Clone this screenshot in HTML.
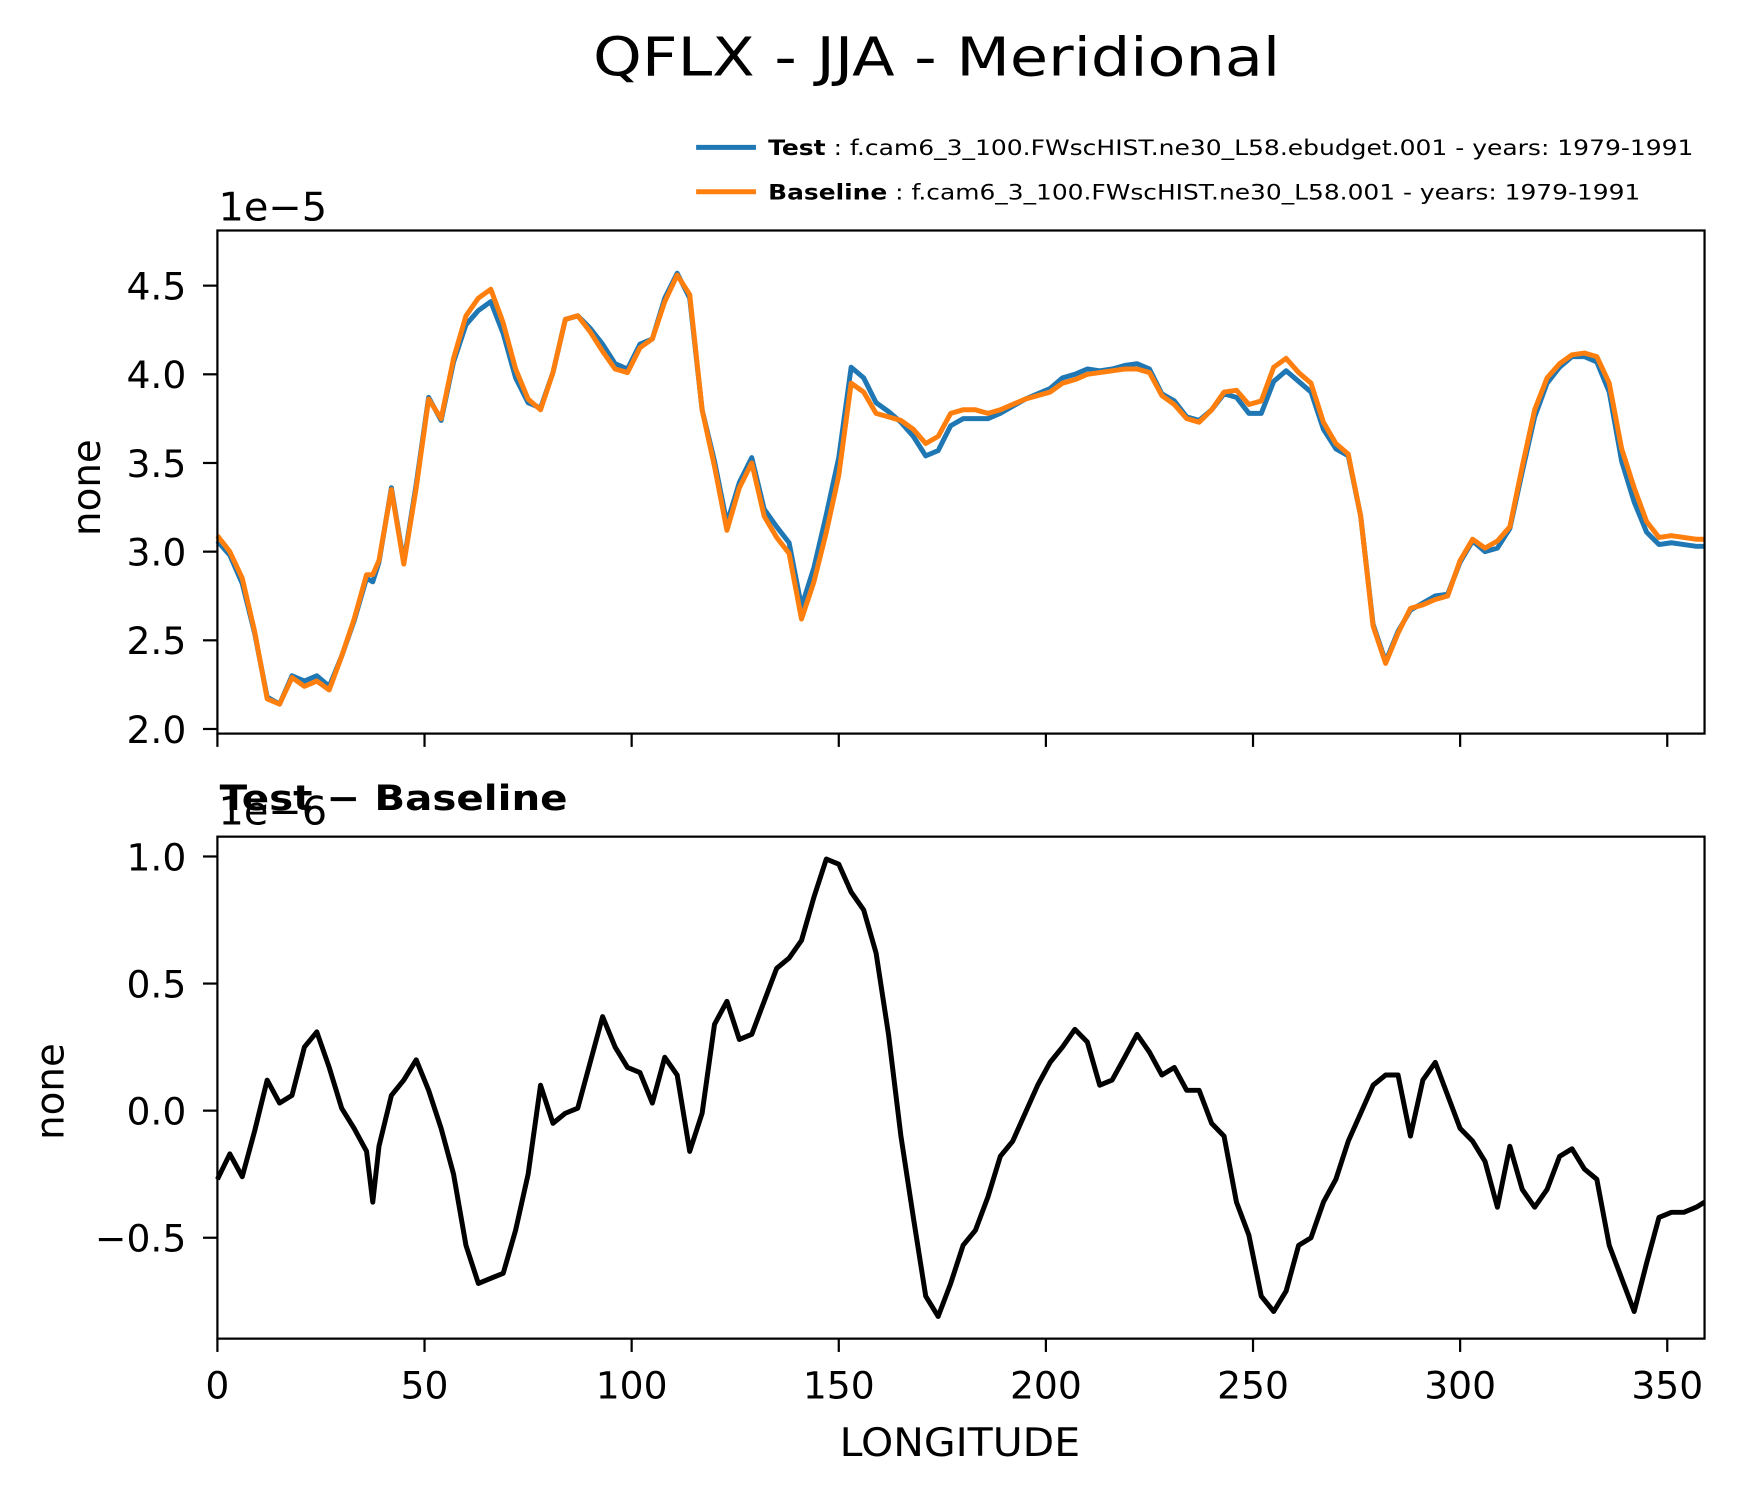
<!DOCTYPE html>
<html><head><meta charset="utf-8"><style>
html,body{margin:0;padding:0;background:#fff}
svg{display:block;font-family:"DejaVu Sans","Liberation Sans",sans-serif}
</style></head><body>
<svg id="chart" width="1738" height="1496" viewBox="0 0 1568 1350" xmlns="http://www.w3.org/2000/svg">
<text x="535" y="68" font-size="48" textLength="620" lengthAdjust="spacingAndGlyphs">QFLX - JJA - Meridional</text>
<g>
<line x1="628" y1="133" x2="682" y2="133" stroke="#1f77b4" stroke-width="4.5"/>
<text x="693" y="140" font-size="19" textLength="835" lengthAdjust="spacingAndGlyphs"><tspan font-weight="bold">Test</tspan> : f.cam6_3_100.FWscHIST.ne30_L58.ebudget.001 - years: 1979-1991</text>
<line x1="628" y1="173" x2="682" y2="173" stroke="#ff7f0e" stroke-width="4.5"/>
<text x="693" y="180" font-size="19" textLength="787" lengthAdjust="spacingAndGlyphs"><tspan font-weight="bold">Baseline</tspan> : f.cam6_3_100.FWscHIST.ne30_L58.001 - years: 1979-1991</text>
</g>
<g id="top"></g>
<g id="bot"></g>
<text x="866" y="1314" font-size="35" text-anchor="middle" textLength="217" lengthAdjust="spacingAndGlyphs">LONGITUDE</text>
</svg>
<script>
const lons = [0,3,6,9,12,15,18,21,24,27,30,33,36,37.5,39,42,45,48,51,54,57,60,63,66,69,72,75,78,81,84,87,90,93,96,99,102,105,108,111,114,117,120,123,126,129,132,135,138,141,144,147,150,153,156,159,162,165,168,171,174,177,180,183,186,189,192,195,198,201,204,207,210,213,216,219,222,225,228,231,234,237,240,243,246,249,252,255,258,261,264,267,270,273,276,279,282,285,288,291,294,297,300,303,306,309,312,315,318,321,324,327,330,333,336,339,342,345,348,351,354,357,359];
const baseline = [3.09,3.00,2.85,2.55,2.17,2.14,2.29,2.24,2.27,2.22,2.41,2.62,2.87,2.87,2.95,3.35,2.93,3.36,3.86,3.75,4.09,4.33,4.43,4.48,4.29,4.03,3.86,3.80,4.01,4.31,4.33,4.24,4.13,4.03,4.01,4.15,4.20,4.41,4.56,4.45,3.80,3.48,3.12,3.36,3.50,3.20,3.08,2.99,2.62,2.83,3.11,3.43,3.95,3.90,3.78,3.76,3.74,3.69,3.61,3.65,3.78,3.80,3.80,3.78,3.80,3.83,3.86,3.88,3.90,3.95,3.97,4.00,4.01,4.02,4.03,4.03,4.01,3.88,3.83,3.75,3.73,3.80,3.90,3.91,3.83,3.85,4.04,4.09,4.01,3.95,3.73,3.61,3.55,3.20,2.58,2.37,2.54,2.68,2.70,2.73,2.75,2.95,3.07,3.02,3.06,3.14,3.48,3.80,3.98,4.06,4.11,4.12,4.10,3.95,3.58,3.36,3.17,3.08,3.09,3.08,3.07,3.07];
const test = [3.06,2.98,2.82,2.54,2.18,2.14,2.30,2.27,2.30,2.24,2.41,2.61,2.85,2.83,2.94,3.36,2.94,3.38,3.87,3.74,4.07,4.28,4.36,4.41,4.23,3.98,3.84,3.81,4.01,4.31,4.33,4.26,4.17,4.06,4.03,4.17,4.20,4.43,4.57,4.43,3.80,3.51,3.16,3.39,3.53,3.24,3.14,3.05,2.69,2.91,3.21,3.53,4.04,3.98,3.84,3.79,3.73,3.65,3.54,3.57,3.71,3.75,3.75,3.75,3.78,3.82,3.86,3.89,3.92,3.98,4.00,4.03,4.02,4.03,4.05,4.06,4.03,3.89,3.85,3.76,3.74,3.80,3.89,3.87,3.78,3.78,3.96,4.02,3.96,3.90,3.69,3.58,3.54,3.20,2.59,2.38,2.55,2.67,2.71,2.75,2.76,2.94,3.06,3.00,3.02,3.13,3.45,3.76,3.95,4.04,4.10,4.10,4.07,3.90,3.51,3.28,3.11,3.04,3.05,3.04,3.03,3.03];
const diff = [-0.27,-0.17,-0.26,-0.08,0.12,0.03,0.06,0.25,0.31,0.17,0.01,-0.07,-0.16,-0.36,-0.14,0.06,0.12,0.20,0.08,-0.07,-0.25,-0.53,-0.68,-0.66,-0.64,-0.47,-0.25,0.10,-0.05,-0.01,0.01,0.19,0.37,0.25,0.17,0.15,0.03,0.21,0.14,-0.16,-0.01,0.34,0.43,0.28,0.30,0.43,0.56,0.60,0.67,0.84,0.99,0.97,0.86,0.79,0.62,0.30,-0.10,-0.42,-0.73,-0.81,-0.68,-0.53,-0.47,-0.34,-0.18,-0.12,-0.01,0.10,0.19,0.25,0.32,0.27,0.10,0.12,0.21,0.30,0.23,0.14,0.17,0.08,0.08,-0.05,-0.10,-0.36,-0.49,-0.73,-0.79,-0.71,-0.53,-0.50,-0.36,-0.27,-0.12,-0.01,0.10,0.14,0.14,-0.10,0.12,0.19,0.06,-0.07,-0.12,-0.20,-0.38,-0.14,-0.31,-0.38,-0.31,-0.18,-0.15,-0.23,-0.27,-0.53,-0.66,-0.79,-0.60,-0.42,-0.40,-0.40,-0.38,-0.36];
const xTicks = [0,50,100,150,200,250,300,350];
const topTicks = [2.0,2.5,3.0,3.5,4.0,4.5];
const botTicks = [-0.5,0.0,0.5,1.0];

const NS="http://www.w3.org/2000/svg";
const X0=196,X1=1538,XMIN=0,XMAX=359;
function xs(v){return X0+(v-XMIN)/(XMAX-XMIN)*(X1-X0);}
function mk(parent,tag,attrs){const e=document.createElementNS(NS,tag);for(const k in attrs)e.setAttribute(k,attrs[k]);parent.appendChild(e);return e;}
const gT=document.getElementById('top');
const T0=208,T1=662,TMIN=1.974,TMAX=4.811;
const ysT=v=>T1-(v-TMIN)/(TMAX-TMIN)*(T1-T0);
const gB=document.getElementById('bot');
const B0=755,B1=1208,BMIN=-0.897,BMAX=1.078;
const ysB=v=>B1-(v-BMIN)/(BMAX-BMIN)*(B1-B0);

function drawLine(g,arr,ys,color,name){
  const d=arr.map((v,i)=>(i?'L':'M')+xs(lons[i]).toFixed(1)+' '+ys(v).toFixed(1)).join(' ');
  const p=mk(g,'path',{d:d,fill:'none',stroke:color,'stroke-width':4.5,'stroke-linejoin':'round'});
  
  
}
function axes(g,top,bot,ys,ticks,fmt,showLabels,nm){
  for(const t of ticks){
    const y=ys(t);
    const l=mk(g,'line',{x1:X0-13,x2:X0,y1:y,y2:y,stroke:'#000','stroke-width':2});
    
    
    const tx=mk(g,'text',{x:X0-28,y:y+12.5,'font-size':34,'text-anchor':'end'});
    tx.textContent=fmt(t);
    
    
  }
  for(const t of xTicks){
    const x=xs(t);
    const l=mk(g,'line',{x1:x,x2:x,y1:bot,y2:bot+12,stroke:'#000','stroke-width':2});
    
    
    if(showLabels){
      const tx=mk(g,'text',{x:x,y:bot+54,'font-size':34,'text-anchor':'middle'});
      tx.textContent=String(t);
      
      
    }
  }
  const r=mk(g,'rect',{x:X0,y:top,width:X1-X0,height:bot-top,fill:'none',stroke:'#000','stroke-width':2});
  
  
}
const fmtT=t=>t.toFixed(1);
const fmtB=t=>(t<0?'\u2212'+(-t).toFixed(1):t.toFixed(1));
drawLine(gT,test,ysT,'#1f77b4','test-line');
drawLine(gT,baseline,ysT,'#ff7f0e','baseline-line');
axes(gT,T0,T1,ysT,topTicks,fmtT,false,'top');
drawLine(gB,diff,ysB,'#000','difference-line');
axes(gB,B0,B1,ysB,botTicks,fmtB,true,'bottom');
function txt(g,x,y,s,str,extra,name){
  const t=mk(g,'text',Object.assign({x:x,y:y,'font-size':s},extra||{}));
  t.textContent=str;
  
  
}
txt(gT,197,199,35,'1e\u22125',{textLength:98,lengthAdjust:'spacingAndGlyphs'},'top-offset-label');
txt(gB,197,744,35,'1e\u22126',{textLength:98,lengthAdjust:'spacingAndGlyphs'},'bottom-offset-label');
txt(gB,198,731,31,'Test \u2212 Baseline',{'font-weight':'bold',textLength:314,lengthAdjust:'spacingAndGlyphs'},'bottom-panel-title');
const y1=mk(gT,'text',{x:0,y:0,'font-size':35,'text-anchor':'middle',transform:'translate(90,440) rotate(-90)'});
y1.textContent='none';


const y2=mk(gB,'text',{x:0,y:0,'font-size':35,'text-anchor':'middle',transform:'translate(57,985) rotate(-90)'});
y2.textContent='none';


</script>
</body></html>
